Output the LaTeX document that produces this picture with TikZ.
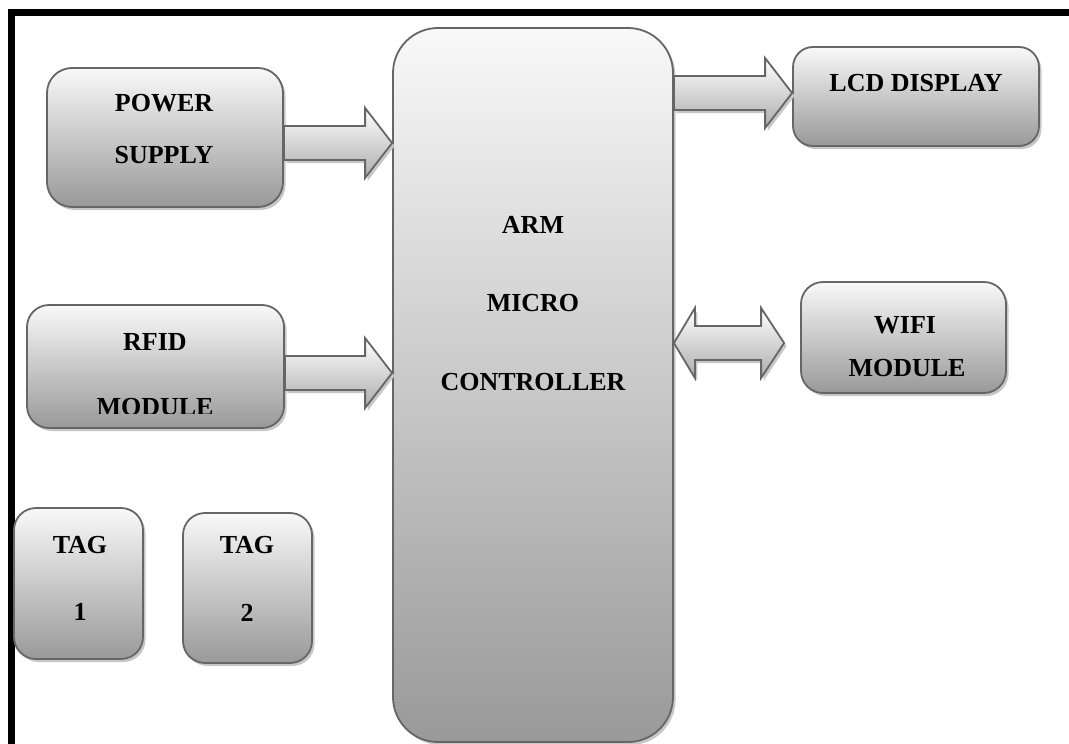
\documentclass[tikz,border=0pt]{standalone}
\usepackage{fontspec}
\setmainfont{Liberation Serif}
\usetikzlibrary{calc, shadows}

\tikzset{
	blk/.style = {draw=black!60, line width=1.8pt, inner sep=0pt,
		top color=gray!5, bottom color=gray!80,
		drop shadow={shadow xshift=2.5pt, shadow yshift=-3pt, fill=black!22, opacity=1}},
	lbl/.style = {font=\fontsize{26}{30}\selectfont\bfseries, text height=17pt, text depth=0pt, inner sep=0pt},
	arr/.style = {draw=black!60, line width=1.8pt, line join=miter,
		top color=white, bottom color=gray!65,
		drop shadow={shadow xshift=2.5pt, shadow yshift=-3pt, fill=black!22, opacity=1}},
}

% fat arrow from tail #1 to tip #2
\newcommand{\blkarrow}[2]{%
	\draw [arr] ($(#1)+(0,-17)$) -- ($(#2)+(-27,-17)$) -- ($(#2)+(-27,-35)$) -- (#2)
		-- ($(#2)+(-27,35)$) -- ($(#2)+(-27,17)$) -- ($(#1)+(0,17)$) -- cycle;
}
% fat arrow with two heads, tips #1 (left) and #2 (right)
\newcommand{\dblarrow}[2]{%
	\draw [arr] (#1) -- ($(#1)+(21,-35)$) -- ($(#1)+(21,-17)$) -- ($(#2)+(-23,-17)$) -- ($(#2)+(-23,-35)$)
		-- (#2) -- ($(#2)+(-23,35)$) -- ($(#2)+(-23,17)$) -- ($(#1)+(21,17)$) -- ($(#1)+(21,35)$) -- cycle;
}

\begin{document}
\begin{tikzpicture}[x=1pt, y=-1pt]
	\useasboundingbox (0,0) rectangle (1069,744);
	
	% frame
	\draw [line width=7pt] (11.5,744) -- (11.5,12.5) -- (1069,12.5);
	
	% blocks
	\node [blk, rounded corners=25pt, minimum width=236pt, minimum height=139pt] (psu) at (165,137.5) {};
	\node [blk, rounded corners=22pt, minimum width=257pt, minimum height=123pt] (rfid) at (155.5,366.5) {};
	\node [blk, rounded corners=22pt, minimum width=129pt, minimum height=151pt] (tag1) at (78.5,583.5) {};
	\node [blk, rounded corners=22pt, minimum width=129pt, minimum height=150pt] (tag2) at (247.5,588) {};
	\node [blk, rounded corners=45pt, minimum width=280pt, minimum height=714pt] (arm) at (533,385) {};
	\node [blk, rounded corners=20pt, minimum width=246pt, minimum height=99pt] (lcd) at (916,96.5) {};
	\node [blk, rounded corners=22pt, minimum width=205pt, minimum height=111pt] (wifi) at (903.5,337.5) {};
	
	% texts
	\node [lbl] (psu-a) at (164,103) {POWER};
	\node [lbl] (psu-b) at (164,155) {SUPPLY};
	\node [lbl] (rfid-a) at (155,342) {RFID};
	\begin{scope}
		\clip (0,0) rectangle (1069,413);
		\node [lbl] (rfid-b) at (155,407) {MODULE};
	\end{scope}
	\node [lbl] (tag1-a) at (80,545) {TAG};
	\node [lbl] (tag1-b) at (80,612) {1};
	\node [lbl] (tag2-a) at (247,545) {TAG};
	\node [lbl] (tag2-b) at (247,613) {2};
	\node [lbl] (arm-a) at (533,225) {ARM};
	\node [lbl] (arm-b) at (533,303) {MICRO};
	\node [lbl] (arm-c) at (533,382) {CONTROLLER};
	\node [lbl] (lcd-a) at (916,83) {LCD DISPLAY};
	\node [lbl] (wifi-a) at (905,325) {WIFI};
	\node [lbl] (wifi-b) at (907,368) {MODULE};
	
	% arrows
	\coordinate (psu-out) at (psu.east |- 0,143);
	\coordinate (psu-in) at (arm.west |- 0,143);
	\coordinate (rfid-out) at (rfid.east |- 0,373);
	\coordinate (rfid-in) at (arm.west |- 0,373);
	\coordinate (lcd-out) at (arm.east |- 0,93);
	\coordinate (lcd-in) at (lcd.west |- 0,93);
	\coordinate (wifi-l) at (arm.east |- 0,343);
	\coordinate (wifi-r) at ($(wifi.west |- 0,343)+(-16,0)$);
	
	\blkarrow{psu-out}{psu-in}
	\blkarrow{rfid-out}{rfid-in}
	\blkarrow{lcd-out}{lcd-in}
	\dblarrow{wifi-l}{wifi-r}
\end{tikzpicture}
\end{document}
